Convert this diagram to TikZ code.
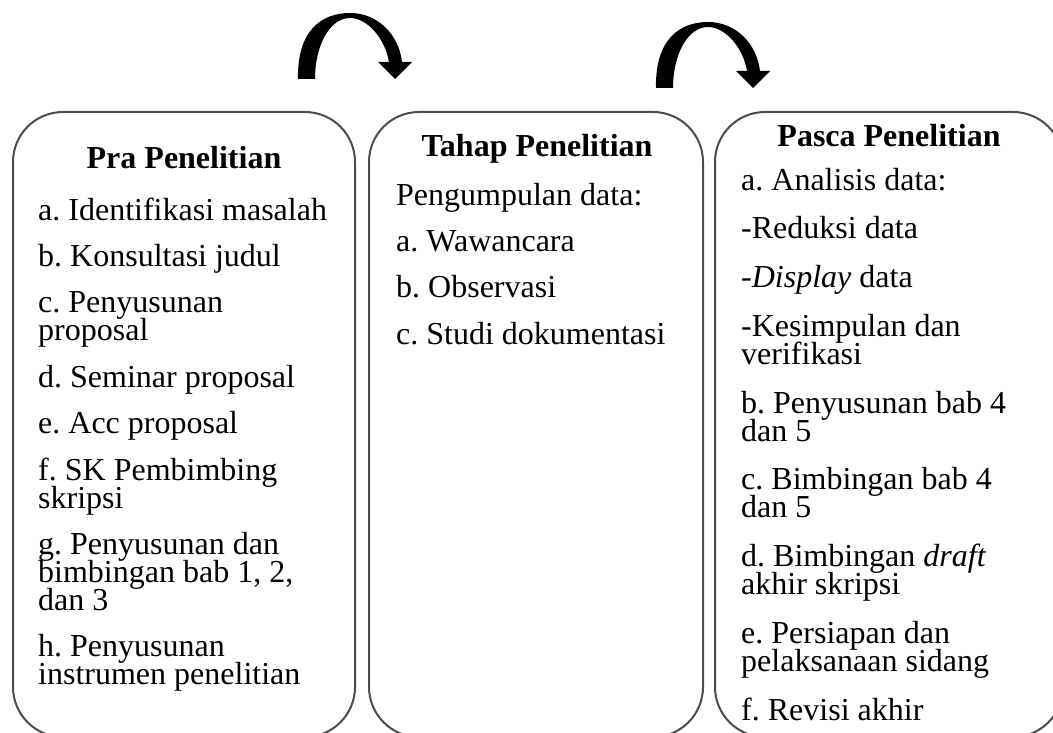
\documentclass[tikz,border=0pt]{standalone}
\usepackage{fontspec}
\setmainfont{Liberation Serif}
\frenchspacing
\begin{document}
\begin{tikzpicture}[x=1pt,y=-1pt,
  box/.style={draw=black!70,line width=2pt,rounded corners=50pt},
  txt/.style={font=\fontsize{32}{28}\selectfont,anchor=base west,inner sep=0pt},
  ttl/.style={font=\fontsize{32}{28}\selectfont\bfseries,anchor=base,inner sep=0pt},
  arrowshape/.style={fill=black}]
\useasboundingbox (0,0) rectangle (1053,733);
\clip (0,0) rectangle (1053,733);
% boxes
\draw[box] (13,112) rectangle (355,737);
\draw[box] (369,112) rectangle (703,737);
\draw[box] (715,112) rectangle (1063,737);
% curved arrows
\foreach \sx/\sy in {0/0,358/9}{
\begin{scope}[shift={(\sx,\sy)}]
\fill[arrowshape] (298,79) .. controls (297,30) and (322,13) .. (350,13)
  .. controls (378,13) and (399,35) .. (402,62) -- (389,62)
  .. controls (385,38) and (367,18) .. (350,18)
  .. controls (330,18) and (315,45) .. (315,79) -- cycle;
\fill[arrowshape] (378,62) -- (412,62) -- (395,79) -- cycle;
\end{scope}}
% left box
\node[ttl] (lt) at (184,168) {Pra Penelitian};
\node[txt] (l1) at (38,220) {a. Identifikasi masalah};
\node[txt] (l2) at (38,266.4) {b. Konsultasi judul};
\node[txt] (l3) at (38,312.8) {c. Penyusunan};
\node[txt] (l4) at (38,340.8) {proposal};
\node[txt] (l5) at (38,387.2) {d. Seminar proposal};
\node[txt] (l6) at (38,433.6) {e. Acc proposal};
\node[txt] (l7) at (38,480) {f. SK Pembimbing};
\node[txt] (l8) at (38,508) {skripsi};
\node[txt] (l9) at (38,554.4) {g. Penyusunan dan};
\node[txt] (l10) at (38,582.4) {bimbingan bab 1, 2,};
\node[txt] (l11) at (38,610.4) {dan 3};
\node[txt] (l12) at (38,656.8) {h. Penyusunan};
\node[txt] (l13) at (38,684.8) {instrumen penelitian};
% middle box
\node[ttl] (mt) at (537,157) {Tahap Penelitian};
\node[txt] (m1) at (396,205) {Pengumpulan data:};
\node[txt] (m2) at (396,251.4) {a. Wawancara};
\node[txt] (m3) at (396,297.8) {b. Observasi};
\node[txt] (m4) at (396,344.2) {c. Studi dokumentasi};
% right box
\node[ttl] (rt) at (889,147) {Pasca Penelitian};
\node[txt] (r1) at (741,190) {a. Analisis data:};
\node[txt] (r2) at (741,238.75) {-Reduksi data};
\node[txt] (r3) at (741,287.5) {-\textit{Display} data};
\node[txt] (r4) at (741,336.25) {-Kesimpulan dan};
\node[txt] (r5) at (741,364.25) {verifikasi};
\node[txt] (r6) at (741,413) {b. Penyusunan bab 4};
\node[txt] (r7) at (741,441) {dan 5};
\node[txt] (r8) at (741,489.75) {c. Bimbingan bab 4};
\node[txt] (r9) at (741,517.75) {dan 5};
\node[txt] (r10) at (741,566.5) {d. Bimbingan \textit{draft}};
\node[txt] (r11) at (741,594.5) {akhir skripsi};
\node[txt] (r12) at (741,643.25) {e. Persiapan dan};
\node[txt] (r13) at (741,671.25) {pelaksanaan sidang};
\node[txt] (r14) at (741,720) {f. Revisi akhir};
\end{tikzpicture}
\end{document}
